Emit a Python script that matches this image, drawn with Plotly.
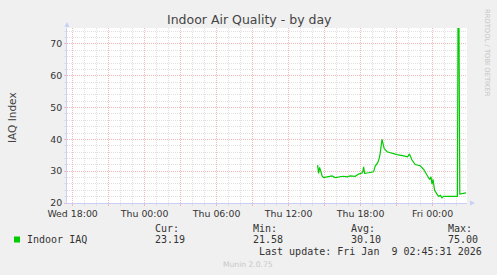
import plotly.graph_objects as go

# ---- data ----
times = [
    "2026-01-08 14:25", "2026-01-08 14:30", "2026-01-08 14:35", "2026-01-08 14:42",
    "2026-01-08 14:48", "2026-01-08 14:55", "2026-01-08 15:20", "2026-01-08 15:37",
    "2026-01-08 15:53", "2026-01-08 16:17", "2026-01-08 16:33", "2026-01-08 16:52",
    "2026-01-08 17:08", "2026-01-08 17:33", "2026-01-08 17:50", "2026-01-08 18:07",
    "2026-01-08 18:12", "2026-01-08 18:15", "2026-01-08 18:20", "2026-01-08 18:40",
    "2026-01-08 19:05", "2026-01-08 19:13", "2026-01-08 19:25", "2026-01-08 19:33",
    "2026-01-08 19:38", "2026-01-08 19:47", "2026-01-08 19:58", "2026-01-08 20:12",
    "2026-01-08 20:37", "2026-01-08 21:02", "2026-01-08 21:35", "2026-01-08 21:55",
    "2026-01-08 22:04", "2026-01-08 22:17", "2026-01-08 22:33", "2026-01-08 22:58",
    "2026-01-08 23:15", "2026-01-08 23:35", "2026-01-08 23:45", "2026-01-08 23:52",
    "2026-01-08 23:57", "2026-01-09 00:02", "2026-01-09 00:10", "2026-01-09 00:22",
    "2026-01-09 00:30", "2026-01-09 00:39", "2026-01-09 00:47", "2026-01-09 00:55",
    "2026-01-09 01:12", "2026-01-09 01:29", "2026-01-09 01:46", "2026-01-09 02:04",
    "2026-01-09 02:07", "2026-01-09 02:12", "2026-01-09 02:16", "2026-01-09 02:35",
    "2026-01-09 02:47",
]
iaq = [
    31.9, 29.3, 31.2, 29.1,
    28.4, 28.0, 28.2, 28.5,
    28.0, 28.2, 28.4, 28.2,
    28.5, 28.4, 29.1, 29.4,
    30.1, 31.4, 29.3, 29.5,
    29.8, 31.6, 32.6, 34.0,
    35.6, 40.0, 37.1, 36.1,
    35.6, 35.2, 34.8, 34.5,
    35.4, 33.5, 32.1, 31.7,
    30.6, 28.7, 27.4, 28.2,
    25.9, 27.4, 24.0, 22.8,
    22.1, 22.4, 21.6, 22.1,
    22.1, 22.3, 22.3, 22.1,
    75.0, 75.0, 22.8, 23.0,
    23.2,
]
x_range = ["2026-01-07 17:32", "2026-01-09 02:52"]
y_range = [20, 75]
tick_times = ["2026-01-07 18:00", "2026-01-07 21:00", "2026-01-08 00:00", "2026-01-08 03:00",
              "2026-01-08 06:00", "2026-01-08 09:00", "2026-01-08 12:00", "2026-01-08 15:00",
              "2026-01-08 18:00", "2026-01-08 21:00", "2026-01-09 00:00"]
tick_labels = ["Wed 18:00", "", "Thu 00:00", "", "Thu 06:00", "", "Thu 12:00", "",
               "Thu 18:00", "", "Fri 00:00"]
series_name = "Indoor IAQ"
stat_names = ["Cur:", "Min:", "Avg:", "Max:"]
stat_values = ["23.19", "21.58", "30.10", "75.00"]
title = "Indoor Air Quality - by day"
y_title = "IAQ Index"
last_update = "Last update: Fri Jan \u00a09 02:45:31 2026"
side_text = "RRDTOOL / TOBI OETIKER"
footer = "Munin 2.0.75"

# ---- layout geometry (pixels) ----
W, H = 497, 275
L, R, T, B = 67, 467, 28, 203


def px(x):
    return (x - L) / (R - L)


def py(y):
    return (B - y) / (B - T)


GREEN = "#00CC00"
TXT = "#333333"
AXIS = "#C8D0F8"
MAJ = "#F2B8B8"
MIN = "#E0E0E0"
SANS = "DejaVu Sans"
MONO = "DejaVu Sans Mono"

fig = go.Figure()
fig.add_trace(go.Scatter(x=times, y=iaq, mode="lines", name=series_name,
                         line=dict(color=GREEN, width=1.2), hoverinfo="skip",
                         showlegend=False))

fig.update_layout(
    width=W, height=H,
    margin=dict(l=L, r=W - R, t=T, b=H - B, pad=0),
    paper_bgcolor="#F0F0F0", plot_bgcolor="#FFFFFF",
    showlegend=False,
    xaxis=dict(
        type="date", range=x_range, fixedrange=True,
        tickmode="array", tickvals=tick_times, ticktext=tick_labels,
        showgrid=True, gridcolor=MAJ, griddash="1px,1px", gridwidth=1,
        ticks="outside", ticklen=2, tickcolor=MAJ,
        tickfont=dict(family=SANS, size=9.4, color=TXT),
        showline=True, linecolor=AXIS, linewidth=1,
        zeroline=False,
        minor=dict(tickmode="linear", tick0="2026-01-07 18:00", dtick=3600000,
                   showgrid=True, gridcolor=MIN, griddash="1px,1px", gridwidth=1,
                   ticks="outside", ticklen=2, tickcolor=MIN),
    ),
    yaxis=dict(
        range=y_range, fixedrange=True,
        tickmode="linear", tick0=20, dtick=10,
        showgrid=True, gridcolor=MAJ, griddash="1px,1px", gridwidth=1,
        ticks="outside", ticklen=2, tickcolor=MAJ,
        tickfont=dict(family=SANS, size=9.4, color=TXT),
        showline=True, linecolor=AXIS, linewidth=1,
        zeroline=False,
        minor=dict(tickmode="linear", tick0=20, dtick=2,
                   showgrid=True, gridcolor=MIN, griddash="1px,1px", gridwidth=1,
                   ticks="outside", ticklen=2, tickcolor=MIN),
    ),
)

ann = []
# title
ann.append(dict(text=title, x=px(249), y=py(19), xref="paper", yref="paper",
                xanchor="center", yanchor="middle", showarrow=False,
                font=dict(family=SANS, size=12.5, color="#444444")))
# y title
ann.append(dict(text=y_title, x=px(12), y=py(117), xref="paper", yref="paper",
                xanchor="center", yanchor="middle", showarrow=False, textangle=-90,
                font=dict(family=SANS, size=10.5, color="#444444")))
# side text
ann.append(dict(text=side_text, x=px(487), y=py(53), xref="paper", yref="paper",
                xanchor="center", yanchor="middle", showarrow=False, textangle=90,
                font=dict(family=SANS, size=6.8, color="#C4C4C4")))
# axis arrows
ann.append(dict(text="", x=0, y=1, xref="paper", yref="paper", showarrow=True,
                ax=0, ay=6, axref="pixel", ayref="pixel", yshift=6,
                arrowhead=2, arrowsize=1, arrowwidth=1, arrowcolor=AXIS))
ann.append(dict(text="", x=1, y=0, xref="paper", yref="paper", showarrow=True,
                ax=-6, ay=0, axref="pixel", ayref="pixel", xshift=8,
                arrowhead=2, arrowsize=1, arrowwidth=1, arrowcolor=AXIS))
# legend row
ann.append(dict(text=series_name, x=px(25), y=py(239.5), xref="paper", yref="paper",
                xanchor="left", yanchor="middle", showarrow=False,
                font=dict(family=MONO, size=10, color=TXT)))
stat_x = [153, 251, 348.5, 446]
for nm, val, sx in zip(stat_names, stat_values, stat_x):
    ann.append(dict(text=nm, x=px(sx), y=py(228), xref="paper", yref="paper",
                    xanchor="left", yanchor="middle", showarrow=False,
                    font=dict(family=MONO, size=10, color=TXT)))
    ann.append(dict(text=val, x=px(sx), y=py(239.5), xref="paper", yref="paper",
                    xanchor="left", yanchor="middle", showarrow=False,
                    font=dict(family=MONO, size=10, color=TXT)))
ann.append(dict(text=last_update, x=px(483.5), y=py(251.5), xref="paper", yref="paper",
                xanchor="right", yanchor="middle", showarrow=False,
                font=dict(family=MONO, size=10, color=TXT)))
ann.append(dict(text=footer, x=px(248), y=py(264), xref="paper", yref="paper",
                xanchor="center", yanchor="middle", showarrow=False,
                font=dict(family=SANS, size=7.6, color="#C8C8C8")))
fig.update_layout(annotations=ann)

fig.add_shape(type="rect", xref="paper", yref="paper",
              x0=px(14), x1=px(20), y0=py(242.5), y1=py(236.5),
              fillcolor=GREEN, line=dict(width=0))

fig.write_html("out.html", config={"displayModeBar": False})
